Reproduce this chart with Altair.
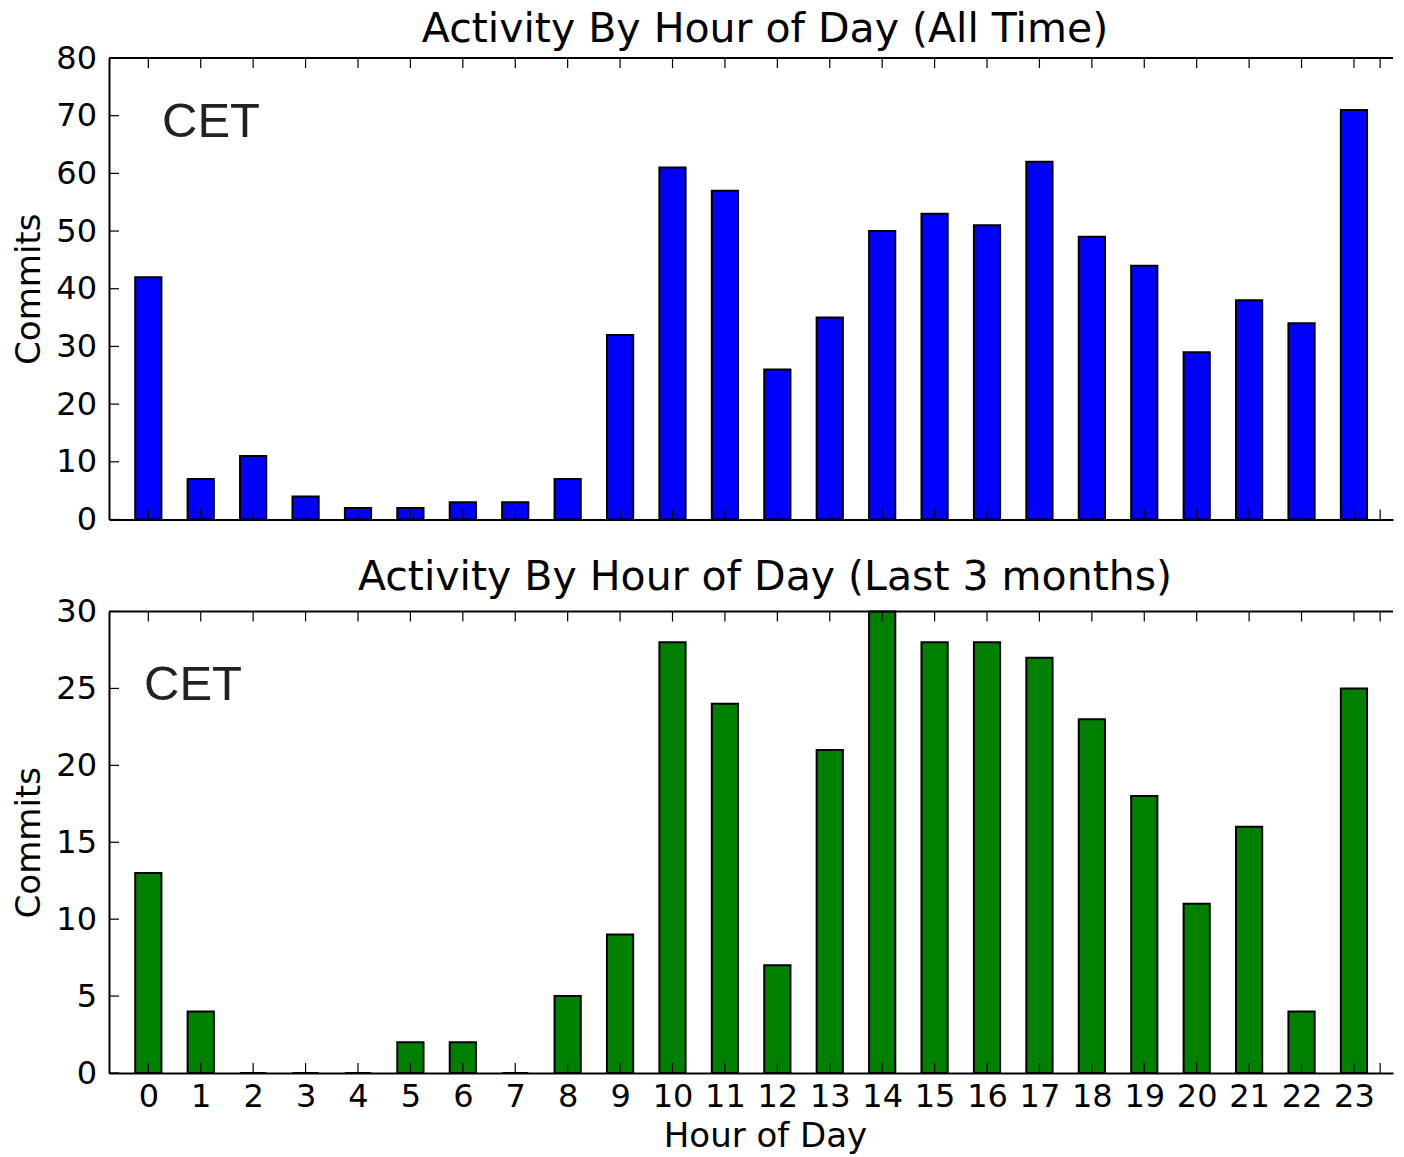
import altair as alt
import pandas as pd

# ---- data ----
hours = list(range(24))
commits_all_time = [42, 7, 11, 4, 2, 2, 3, 3, 7, 32, 61, 57, 26, 35, 50, 53, 51, 62, 49, 44, 29, 38, 34, 71]
commits_last_3m = [13, 4, 0, 0, 0, 2, 2, 0, 5, 9, 28, 24, 7, 21, 30, 28, 28, 27, 23, 18, 11, 16, 4, 25]
x_tick_values = hours + [23.5]
y_ticks_top = [0, 10, 20, 30, 40, 50, 60, 70, 80]
y_ticks_bottom = [0, 5, 10, 15, 20, 25, 30]
panel_titles = ["Activity By Hour of Day (All Time)", "Activity By Hour of Day (Last 3 months)"]
annotation = "CET"

W = 1284
H = 461.5
X_DOMAIN = [-0.75, 23.745]
FONT = "DejaVu Sans"


def panel(values, color, title, y_max, y_ticks, show_labels, cet_xy, title_offset):
    df = pd.DataFrame({"hour": hours, "commits": values})
    xscale = alt.Scale(domain=X_DOMAIN, nice=False, zero=False)
    yscale = alt.Scale(domain=[0, y_max], nice=False, zero=True)
    if show_labels:
        xaxis = alt.Axis(values=hours, title="Hour of Day", labelPadding=8.5, titlePadding=7,
                         titleX=W / 2 + 14, ticks=False, tickSize=0, grid=False, labelFlush=False,
                         labelOverlap=False, format="d")
    else:
        xaxis = alt.Axis(values=hours, labels=False, ticks=False, tickSize=0, title=None, grid=False)
    yaxis = alt.Axis(values=y_ticks, title="Commits", labelPadding=12.5, titlePadding=9,
                     ticks=False, tickSize=0, grid=False, labelFlush=False,
                     labelOverlap=False, format="d")

    bars = alt.Chart(df).transform_calculate(
        x0="datum.hour - 0.25", x1="datum.hour + 0.25"
    ).mark_rect(color=color, stroke="black", strokeWidth=2).encode(
        x=alt.X("x0:Q", scale=xscale, axis=xaxis),
        x2="x1:Q",
        y=alt.Y("commits:Q", scale=yscale, axis=yaxis),
        y2=alt.datum(0),
    )

    ytick = alt.Chart(pd.DataFrame({"v": y_ticks})).mark_rule(color="black", strokeWidth=1.2).encode(
        y=alt.Y("v:Q", scale=yscale, axis=yaxis), x=alt.value(0), x2=alt.value(10)
    )
    xtick_df = pd.DataFrame({"v": x_tick_values})
    xtick_b = alt.Chart(xtick_df).mark_rule(color="black", strokeWidth=1.2).encode(
        x=alt.X("v:Q", scale=xscale, axis=xaxis), y=alt.value(H), y2=alt.value(H - 10)
    )
    xtick_t = alt.Chart(xtick_df).mark_rule(color="black", strokeWidth=1.2).encode(
        x=alt.X("v:Q", scale=xscale, axis=xaxis), y=alt.value(0), y2=alt.value(10)
    )
    spine = alt.Chart(pd.DataFrame({"a": [0]})).mark_rule(color="black", strokeWidth=2).encode(
        x=alt.value(0), x2=alt.value(W), y=alt.value(0)
    )
    cet = alt.Chart(pd.DataFrame({"label": [annotation]})).mark_text(
        font="Liberation Sans", fontSize=49, color="#222222", align="left", baseline="alphabetic"
    ).encode(text="label:N", x=alt.value(cet_xy[0]), y=alt.value(cet_xy[1]))

    return alt.layer(bars, ytick, xtick_b, xtick_t, spine, cet).properties(
        width=W, height=H,
        title=alt.Title(title, fontSize=41, font=FONT, fontWeight="normal", color="black",
                        offset=title_offset, dx=14, anchor="middle"),
    )


top = panel(commits_all_time, "#0000ff", panel_titles[0], 80, y_ticks_top, False, (53, 79), -8.5)
bottom = panel(commits_last_3m, "#008000", panel_titles[1], 30, y_ticks_bottom, True, (35, 88), -3.5)

chart = alt.vconcat(top, bottom, spacing=20.5).configure_view(stroke=None).configure_axis(
    labelFont=FONT, labelFontSize=32, titleFont=FONT, titleFontSize=34, titleFontWeight="normal",
    labelColor="black", titleColor="black", domainColor="black", domainWidth=2, grid=False,
).properties(padding={"left": 4, "top": 0, "right": 0, "bottom": 0}, background="white")

chart.save("out.html", embed_options={"renderer": "svg", "actions": False})
